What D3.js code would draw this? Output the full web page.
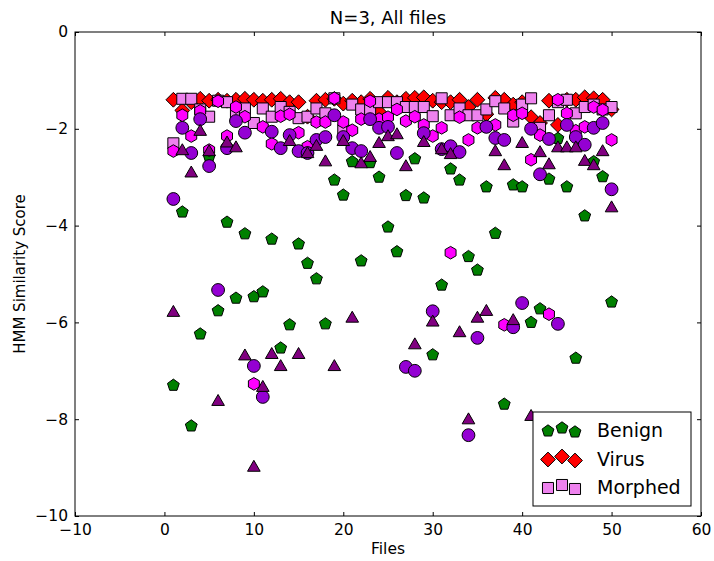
<html>
<head>
    <meta charset="utf-8">
    <script src="https://d3js.org/d3.v7.min.js"></script>
    <style>
        body { margin: 0; background: #fff; }
        text { font-family: "DejaVu Sans", sans-serif; fill: #000; }
    </style>
</head>
<body>
    <svg id="chart" width="714" height="561"></svg>
    <script>
        // file index on x
        const files = [1, 2, 3, 4, 5, 6, 7, 8, 9, 10, 11, 12, 13, 14, 15, 16, 17, 18, 19, 20,
            21, 22, 23, 24, 25, 26, 27, 28, 29, 30, 31, 32, 33, 34, 35, 36, 37, 38, 39, 40,
            41, 42, 43, 44, 45, 46, 47, 48, 49, 50];

        const benign = [-7.3, -3.72, -8.14, -6.24, -2.58, -5.76, -3.93, -5.5, -4.17, -5.47,
            -5.37, -4.28, -6.53, -6.05, -4.38, -4.78, -5.1, -6.03, -3.06, -3.37,
            -2.68, -4.73, -2.7, -3.0, -4.03, -4.54, -3.38, -2.62, -3.43, -6.67,
            -5.23, -2.83, -3.06, -4.64, -4.92, -3.2, -4.16, -7.69, -3.16, -3.2,
            -6.0, -5.72, -3.04, -2.2, -3.2, -6.74, -3.8, -2.68, -2.99, -5.58];

        const virus = [-1.4, -1.62, -1.45, -1.38, -1.42, -1.4, -1.42, -1.4, -1.38, -1.4,
            -1.42, -1.4, -1.38, -1.45, -1.45, -1.75, -1.42, -1.4, -1.38, -1.48,
            -1.42, -1.45, -1.38, -1.65, -1.36, -1.45, -1.38, -1.36, -1.35, -1.42,
            -1.45, -1.45, -1.4, -1.55, -1.4, -1.7, -1.36, -1.4, -1.5, -1.45,
            -1.76, -1.88, -1.42, -1.92, -1.4, -1.4, -1.35, -1.37, -1.4, -1.6];

        const morphed = [-2.3, -1.38, -1.38, -1.6, -1.75, -1.42, -1.45, -1.68, -1.58, -1.88,
            -1.58, -1.75, -1.55, -1.65, -1.78, -1.75, -1.58, -1.68, -1.37, -2.03,
            -1.5, -1.6, -1.6, -1.45, -1.45, -1.45, -1.55, -1.55, -1.55, -1.74,
            -1.37, -1.72, -1.58, -1.72, -1.72, -1.6, -1.43, -1.58, -1.85, -1.5,
            -1.37, -1.98, -1.72, -1.45, -1.4, -1.68, -1.55, -1.5, -1.6, -1.55];

        const hexSeries = [-2.46, -1.72, -2.15, -1.63, -2.44, -1.43, -2.15, -1.55, -1.75, -7.27,
            -1.96, -2.31, -1.74, -1.7, -2.08, -2.37, -1.86, -1.86, -1.37, -1.86,
            -2.03, -1.8, -1.43, -1.8, -1.76, -1.6, -1.84, -1.75, -1.92, -2.15,
            -1.98, -4.56, -1.76, -2.23, -1.98, -1.95, -1.92, -6.05, -1.72, -1.68,
            -2.64, -2.13, -5.83, -1.4, -1.68, -2.04, -1.96, -1.55, -1.61, -2.23];

        const circleSeries = [-3.45, -1.98, -2.5, -1.8, -2.77, -5.33, -2.4, -1.84, -2.08, -6.9,
            -7.54, -2.06, -2.4, -2.13, -2.46, -2.5, -2.23, -2.17, -1.72, -2.17,
            -2.4, -2.46, -1.8, -1.98, -1.96, -2.5, -6.92, -7.0, -2.09, -5.77,
            -2.42, -2.36, -2.48, -8.33, -6.32, -1.96, -2.19, -2.23, -6.1, -5.6,
            -2.0, -2.94, -2.21, -6.03, -1.92, -2.17, -2.33, -1.98, -1.88, -3.25];

        const triSeries = [-5.8, -2.46, -2.92, -2.06, -2.48, -7.64, -2.3, -2.4, -6.7, -9.0,
            -7.35, -6.67, -6.92, -2.27, -6.67, -2.52, -2.37, -2.69, -6.92, -2.27,
            -5.92, -2.73, -2.6, -2.31, -2.17, -2.13, -2.79, -6.47, -2.29, -6.0,
            -2.44, -2.54, -6.22, -8.02, -5.92, -5.78, -2.48, -2.77, -5.97, -2.31,
            -7.95, -2.5, -2.75, -2.4, -2.4, -2.4, -2.68, -2.77, -2.48, -3.64];

        const xTicks = [-10, 0, 10, 20, 30, 40, 50, 60];
        const yTicks = [0, -2, -4, -6, -8, -10];

        const svg = d3.select("#chart");
        const margins = { top: 32, right: 13, bottom: 45, left: 75 };
        const width = 714, height = 561;

        const xScale = d3.scaleLinear().domain([-10, 60]).range([margins.left, width - margins.right]);
        const yScale = d3.scaleLinear().domain([-10, 0]).range([height - margins.bottom, margins.top]);

        // marker shapes
        function polygon(n, r, rot) {
            let pts = [];
            for (let i = 0; i < n; i++) {
                let a = rot + i * 2 * Math.PI / n;
                pts.push([r * Math.sin(a), -r * Math.cos(a)]);
            }
            return "M" + pts.map(p => p[0].toFixed(2) + "," + p[1].toFixed(2)).join("L") + "Z";
        }
        const shapes = {
            pentagon: polygon(5, 6.2, 0),
            diamond: polygon(4, 7.4, 0),
            square: polygon(4, 7.8, Math.PI / 4),
            hexagon: polygon(6, 6.3, 0),
            circle: d3.symbol(d3.symbolCircle, Math.PI * 6.4 * 6.4)(),
            triangle: polygon(3, 7.3, 0)
        };

        const series = [
            { name: "Benign", values: benign, shape: "pentagon", color: "#008000" },
            { name: "Virus", values: virus, shape: "diamond", color: "#ff0000" },
            { name: "Morphed", values: morphed, shape: "square", color: "#ee82ee" },
            { name: "hex", values: hexSeries, shape: "hexagon", color: "#ff00ff" },
            { name: "circ", values: circleSeries, shape: "circle", color: "#9400d3" },
            { name: "tri", values: triSeries, shape: "triangle", color: "#800080" }
        ];

        let plot = svg.append("g");
        series.forEach(s => {
            plot.append("g").selectAll("path")
                .data(files.map((f, i) => ({ x: f, y: s.values[i] })))
                .join("path")
                .attr("d", shapes[s.shape])
                .attr("transform", d => `translate(${xScale(d.x)},${yScale(d.y)})`)
                .attr("fill", s.color)
                .attr("stroke", "#000")
                .attr("stroke-width", 1);
        });

        // frame and ticks (inward, on all sides)
        const x0 = margins.left, x1 = width - margins.right;
        const y0 = margins.top, y1 = height - margins.bottom;

        svg.append("g").attr("transform", `translate(0,${y1})`)
            .call(d3.axisBottom(xScale).tickValues(xTicks).tickSizeInner(-4).tickSizeOuter(0).tickPadding(8))
            .call(g => g.selectAll("text").style("font-size", "15.5px").attr("font-family", "DejaVu Sans"));
        svg.append("g").attr("transform", `translate(0,${y0})`)
            .call(d3.axisTop(xScale).tickValues(xTicks).tickSizeInner(-4).tickSizeOuter(0).tickFormat(""));
        svg.append("g").attr("transform", `translate(${x0},0)`)
            .call(d3.axisLeft(yScale).tickValues(yTicks).tickSizeInner(-4).tickSizeOuter(0).tickPadding(7))
            .call(g => g.selectAll("text").style("font-size", "15.5px").attr("font-family", "DejaVu Sans"));
        svg.append("g").attr("transform", `translate(${x1},0)`)
            .call(d3.axisRight(yScale).tickValues(yTicks).tickSizeInner(-4).tickSizeOuter(0).tickFormat(""));
        svg.selectAll(".domain").remove();

        svg.append("rect")
            .attr("x", x0).attr("y", y0)
            .attr("width", x1 - x0).attr("height", y1 - y0)
            .attr("fill", "none").attr("stroke", "#000").attr("stroke-width", 1);

        // labels
        svg.append("text")
            .attr("text-anchor", "middle")
            .attr("x", (x0 + x1) / 2).attr("y", 24)
            .style("font-size", "18px")
            .text("N=3, All files");

        svg.append("text")
            .attr("text-anchor", "middle")
            .attr("x", (x0 + x1) / 2).attr("y", 554)
            .style("font-size", "15.5px")
            .text("Files");

        svg.append("text")
            .attr("text-anchor", "middle")
            .attr("transform", `translate(25,${(y0 + y1) / 2}) rotate(-90)`)
            .style("font-size", "15px")
            .text("HMM Similarity Score");

        // legend
        let legend = svg.append("g");
        legend.append("rect")
            .attr("x", 533).attr("y", 412)
            .attr("width", 158).attr("height", 94)
            .attr("fill", "#fff").attr("stroke", "#000").attr("stroke-width", 1);

        const legendX = [548, 562, 575];
        const legendDy = [1, -2, 2];
        series.slice(0, 3).forEach((s, i) => {
            let cy = 430 + i * 28.5;
            legend.selectAll(null).data(legendX)
                .join("path")
                .attr("d", shapes[s.shape])
                .attr("transform", (d, j) => `translate(${d},${cy + legendDy[j]})`)
                .attr("fill", s.color)
                .attr("stroke", "#000");
            legend.append("text")
                .attr("x", 597).attr("y", cy + 7)
                .style("font-size", "19px")
                .text(s.name);
        });
    </script>
</body>
</html>
